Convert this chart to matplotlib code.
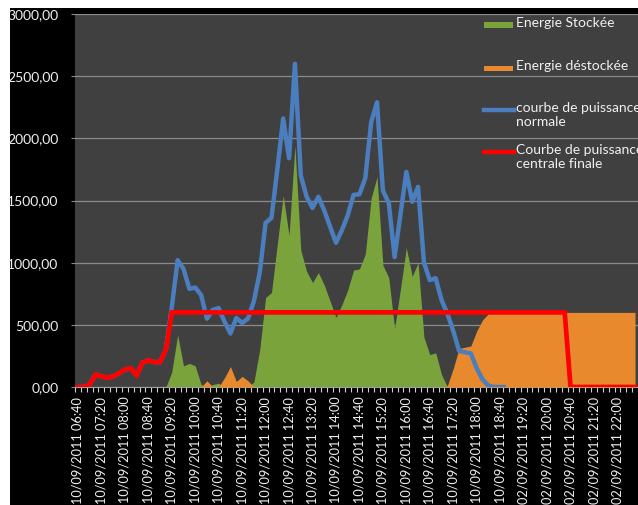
import matplotlib.pyplot as plt
from matplotlib.patches import Rectangle
from matplotlib.lines import Line2D

W, H = 638, 505

# one category every 10 minutes, label every 4th
tick_labels = [
    "10/09/2011 06:40", "10/09/2011 07:20", "10/09/2011 08:00", "10/09/2011 08:40",
    "10/09/2011 09:20", "10/09/2011 10:00", "10/09/2011 10:40", "10/09/2011 11:20",
    "10/09/2011 12:00", "10/09/2011 12:40", "10/09/2011 13:20", "10/09/2011 14:00",
    "10/09/2011 14:40", "10/09/2011 15:20", "10/09/2011 16:00", "10/09/2011 16:40",
    "10/09/2011 17:20", "10/09/2011 18:00", "10/09/2011 18:40", "02/09/2011 19:20",
    "02/09/2011 20:00", "02/09/2011 20:40", "02/09/2011 21:20", "02/09/2011 22:00",
]
n_cat = 96
label_step = 4

puissance_normale = [
    0, 0, 20, 100, 85, 75, 85, 110, 140, 150,
    95, 195, 215, 200, 200, 300, 640, 1020, 950, 790,
    800, 740, 550, 620, 635, 525, 430, 555, 515, 550,
    690, 920, 1320, 1360, 1750, 2160, 1840, 2600, 1700, 1530,
    1440, 1530, 1420, 1290, 1160, 1260, 1380, 1545, 1550, 1680,
    2130, 2290, 1580, 1480, 1045, 1390, 1730, 1490, 1610, 1000,
    860, 875, 700, 590, 450, 290, 280, 270, 150, 60,
    10, 0, 0, 0, None, None, None, None, None, None,
    None, None, None, None, None, None, None, None, None, None,
    None, None, None, None, None, None,
]

puissance_finale = [
    0, 0, 20, 100, 85, 75, 85, 110, 140, 150,
    95, 195, 215, 200, 200, 300, 600, 600, 600, 600,
    600, 600, 600, 600, 600, 600, 600, 600, 600, 600,
    600, 600, 600, 600, 600, 600, 600, 600, 600, 600,
    600, 600, 600, 600, 600, 600, 600, 600, 600, 600,
    600, 600, 600, 600, 600, 600, 600, 600, 600, 600,
    600, 600, 600, 600, 600, 600, 600, 600, 600, 600,
    600, 600, 600, 600, 600, 600, 600, 600, 600, 600,
    600, 600, 600, 600, 0, 0, 0, 0, 0, 0,
    0, 0, 0, 0, 0, 0,
]

energie_stockee = [
    0, 0, 0, 0, 0, 0, 0, 0, 0, 0,
    0, 0, 0, 0, 0, 0, 120, 420, 170, 190,
    170, 20, 0, 20, 30, 0, 0, 0, 0, 0,
    40, 300, 720, 760, 1150, 1540, 1220, 1940, 1100, 930,
    840, 920, 820, 690, 560, 660, 780, 940, 950, 1070,
    1520, 1690, 980, 880, 470, 790, 1120, 890, 1000, 400,
    260, 275, 100, 0, 0, 0, 0, 0, 0, 0,
    0, 0, 0, 0, 0, 0, 0, 0, 0, 0,
    0, 0, 0, 0, 0, 0, 0, 0, 0, 0,
    0, 0, 0, 0, 0, 0,
]

energie_destockee = [
    0, 0, 0, 0, 0, 0, 0, 0, 0, 0,
    0, 0, 0, 0, 0, 0, 0, 0, 0, 0,
    0, 0, 50, 0, 0, 75, 165, 45, 85, 50,
    0, 0, 0, 0, 0, 0, 0, 0, 0, 0,
    0, 0, 0, 0, 0, 0, 0, 0, 0, 0,
    0, 0, 0, 0, 0, 0, 0, 0, 0, 0,
    0, 0, 0, 10, 150, 310, 320, 330, 450, 540,
    590, 600, 600, 600, 600, 600, 600, 600, 600, 600,
    600, 600, 600, 600, 600, 600, 600, 600, 600, 600,
    600, 600, 600, 600, 600, 600,
]

y_ticks = [0, 500, 1000, 1500, 2000, 2500, 3000]
y_labels = ["0,00", "500,00", "1000,00", "1500,00", "2000,00", "2500,00", "3000,00"]

legend_labels = ["Energie Stockée", "Energie déstockée",
                 "courbe de puissance\nnormale", "Courbe de puissance\ncentrale finale"]

GREEN = "#7aa33b"
ORANGE = "#e8892e"
BLUE = "#4a7ebf"
RED = "#ff0000"
TXT = "#f0f0f0"

plt.rcParams["font.family"] = ["Lato", "DejaVu Sans"]

fig = plt.figure(figsize=(W / 100, H / 100), dpi=100, facecolor="white")
# black chart area with a thin white margin top/left
fig.patches.append(Rectangle((10 / W, 0), 1 - 10 / W, 1 - 8 / H,
                             transform=fig.transFigure, facecolor="black",
                             edgecolor="none", zorder=-10))

ax = fig.add_axes([75 / W, 118 / H, (W - 75) / W, (387 - 14) / H])
ax.set_facecolor("#404040")

x = list(range(n_cat))
ax.fill_between(x, energie_stockee, color=GREEN, linewidth=0, zorder=2)
ax.fill_between(x, energie_destockee, color=ORANGE, linewidth=0, zorder=3)
ax.plot(x, puissance_normale, color=BLUE, lw=3.2, solid_joinstyle="round",
        solid_capstyle="butt", zorder=4)
ax.plot(x, puissance_finale, color=RED, lw=3.4, solid_joinstyle="miter", zorder=5)

ax.set_xlim(-0.5, 94.9)
ax.set_ylim(0, 3000)

ax.set_yticks(y_ticks)
ax.set_yticklabels(y_labels)
ax.grid(axis="y", color="#8a8a8a", lw=0.9, zorder=1)
ax.set_axisbelow(True)

ax.set_xticks(range(0, n_cat, label_step)[:len(tick_labels)])
ax.set_xticklabels(tick_labels, rotation=90, va="top", ha="center")
ax.set_xticks([i - 0.5 for i in range(n_cat + 1)], minor=True)

ax.tick_params(axis="x", which="major", length=0, pad=7, labelsize=9.2, labelcolor=TXT)
ax.tick_params(axis="x", which="minor", length=3.5, color="#d0d0d0", width=0.8)
ax.tick_params(axis="y", length=3, color="#8a8a8a", pad=9, labelsize=10, labelcolor=TXT)

for side in ["top", "right", "left"]:
    ax.spines[side].set_visible(False)
ax.spines["bottom"].set_color("#a0a0a0")
ax.spines["bottom"].set_linewidth(0.8)


def fx(px):
    return px / W


def fy(py):
    return 1 - py / H


# legend, drawn by hand to follow the original spacing
leg_y = [25, 68, 110, 152]
for i, (lab, yy) in enumerate(zip(legend_labels, leg_y)):
    if i < 2:
        col = GREEN if i == 0 else ORANGE
        fig.patches.append(Rectangle((fx(484), fy(yy + 2.5)), fx(513) - fx(484),
                                     5 / H, transform=fig.transFigure,
                                     facecolor=col, edgecolor="none", zorder=6))
    else:
        col = BLUE if i == 2 else RED
        fig.lines.append(Line2D([fx(484), fx(514)], [fy(yy), fy(yy)],
                                transform=fig.transFigure, color=col, lw=3.2,
                                zorder=6))
    fig.text(fx(516), fy(yy - 8), lab, color=TXT, fontsize=10, va="top",
             ha="left", linespacing=1.25, zorder=7)

fig.savefig("out.png", dpi=100, facecolor=fig.get_facecolor())
